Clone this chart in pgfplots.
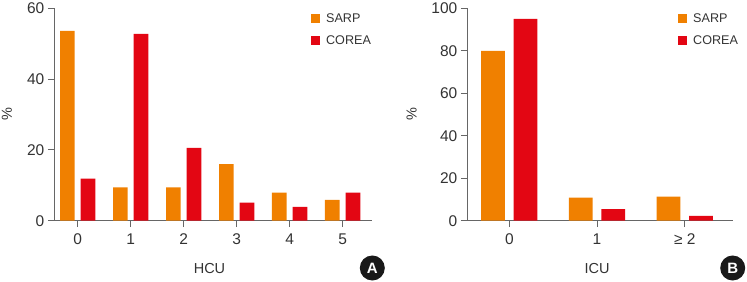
\documentclass[border=0pt]{standalone}
\usepackage{pgfplots}
\pgfplotsset{compat=1.18}
\usepackage{fontspec}
\setmainfont{Liberation Sans}
\definecolor{sarp}{HTML}{F08000}
\definecolor{corea}{HTML}{E30613}
\definecolor{axc}{HTML}{666666}
\definecolor{txt}{HTML}{333333}
\pgfplotsset{
  panel/.style={
    scale only axis, height=212.4bp, ymin=0,
    axis lines*=left, axis line style={axc,line width=1bp,-},
    tick style={axc,line width=1bp},
    major tick length=6.5bp,
    ytick align=outside, xtick align=outside,
    xtick pos=bottom, ytick pos=left,
    ybar, xtick=data,
    tick label style={font=\fontsize{15.5bp}{17bp}\selectfont,text=txt},
    xticklabel style={yshift=-3bp},
    /pgf/number format/assume math mode=true,
    label style={font=\fontsize{14.5bp}{16bp}\selectfont,text=txt},
    ylabel={\%},
    legend style={draw=none,fill=none,font=\fontsize{12.6bp}{14bp}\selectfont,text=txt,
      legend cell align=left,row sep=8bp,inner sep=0pt,anchor=north west,
      /tikz/every odd column/.style={column sep=4bp}},
    legend image code/.code={\fill[#1] (0bp,-4.5bp) rectangle (9bp,4.5bp);},
    clip=false,
  }
}
\begin{document}
\begin{tikzpicture}
\useasboundingbox (0bp,0bp) rectangle (747bp,282bp);
\begin{axis}[panel,at={(54.3bp,61.3bp)},anchor=south west,width=318bp,
  ymax=60,ytick={0,20,40,60},xmin=-0.4415,xmax=5.56,
  bar width=14.7bp,xticklabels={0,1,2,3,4,5},xlabel={HCU},
  xlabel style={at={(axis description cs:0.488,-0.223)},anchor=center},
  ylabel style={at={(axis description cs:-0.149,0.5)},anchor=center},
  legend style={at={(axis description cs:0.807,0.986)}}]
\addplot+[fill=sarp,draw=none,bar shift=-10.3bp] coordinates {(0,53.6)(1,9.4)(2,9.4)(3,16)(4,7.9)(5,5.9)};
\addplot+[fill=corea,draw=none,bar shift=10.3bp] coordinates {(0,11.9)(1,52.8)(2,20.6)(3,5.1)(4,3.9)(5,7.9)};
\legend{SARP,COREA}
\end{axis}
\begin{axis}[panel,at={(467.3bp,61.3bp)},anchor=south west,width=265.4bp,
  ymax=100,ytick={0,20,40,60,80,100},xmin=-0.479,xmax=2.547,
  bar width=23.7bp,xticklabels={0,1,{≥ 2}},xlabel={ICU},
  xlabel style={at={(axis description cs:0.489,-0.223)},anchor=center},
  ylabel style={at={(axis description cs:-0.2095,0.5)},anchor=center},
  legend style={at={(axis description cs:0.794,0.986)}}]
\addplot+[fill=sarp,draw=none,bar shift=-16.25bp] coordinates {(0,80)(1,10.9)(2,11.3)};
\addplot+[fill=corea,draw=none,bar shift=16.25bp] coordinates {(0,95)(1,5.4)(2,2.3)};
\legend{SARP,COREA}
\end{axis}
\node[circle,fill=black!90,minimum size=25bp,inner sep=0pt,text=white,font=\fontsize{15bp}{16bp}\selectfont\bfseries] at (372.3bp,14bp) {A};
\node[circle,fill=black!90,minimum size=25bp,inner sep=0pt,text=white,font=\fontsize{15bp}{16bp}\selectfont\bfseries] at (732.7bp,14bp) {B};
\end{tikzpicture}
\end{document}
